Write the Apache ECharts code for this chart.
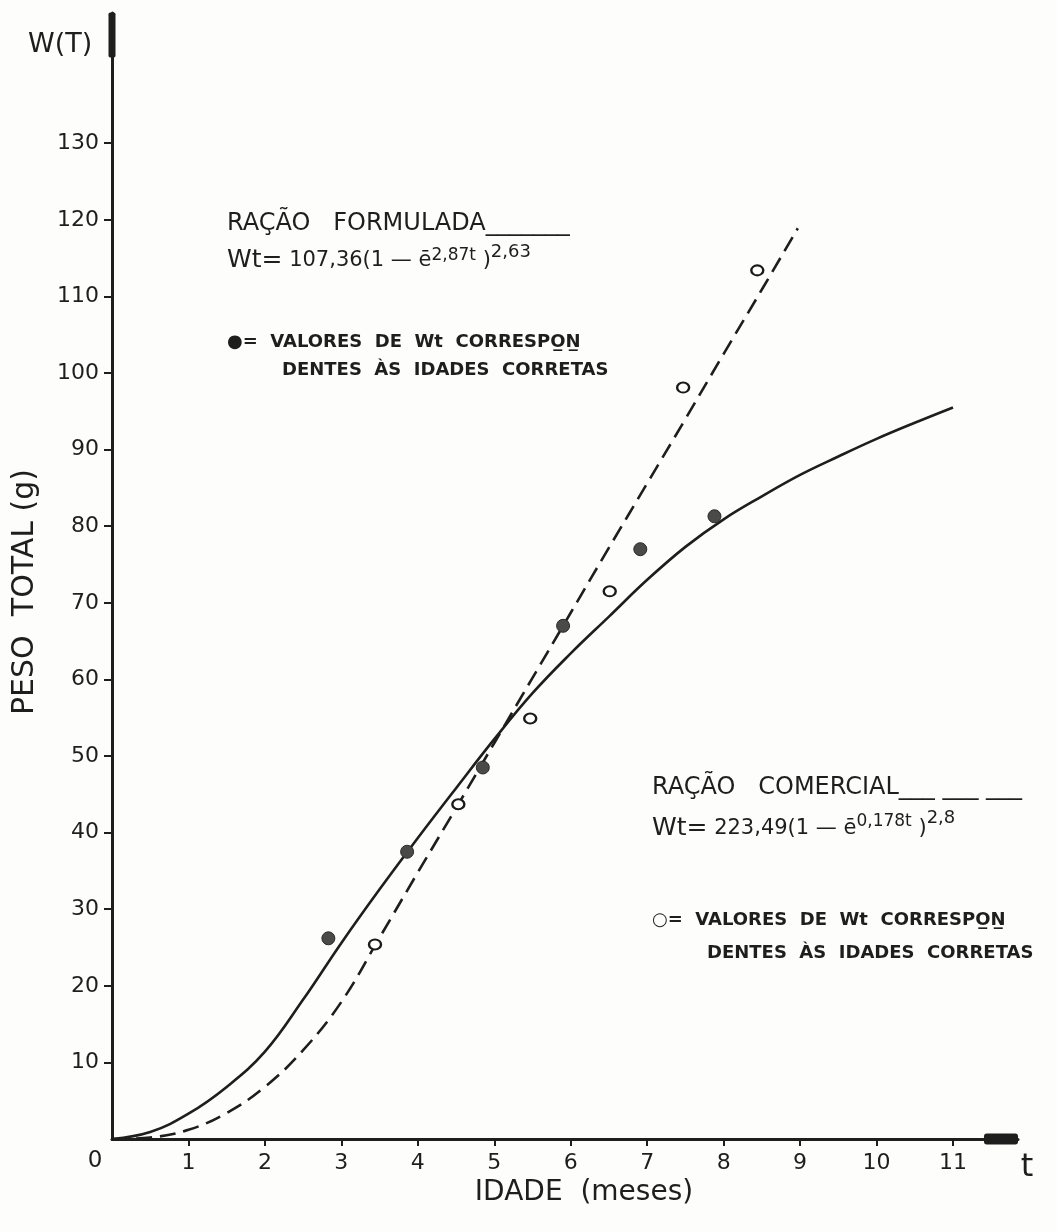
<!DOCTYPE html>
<html>
<head>
<meta charset="utf-8">
<script src="https://cdn.jsdelivr.net/npm/echarts@6/dist/echarts.min.js"></script>
<style>
html,body{margin:0;padding:0;background:#fdfdfb;}
#chart{width:1057px;height:1232px;}
</style>
</head>
<body>
<div id="chart"></div>
<script>
// ---- tick labels ----
const xTicks = [1, 2, 3, 4, 5, 6, 7, 8, 9, 10, 11];
const yTicks = [10, 20, 30, 40, 50, 60, 70, 80, 90, 100, 110, 120, 130];

// ---- Ração formulada: fitted curve (solid) ----
const tFormulada = [0, 0.5, 1, 1.5, 2, 2.5, 3, 3.5, 4, 4.5, 5, 5.5, 6, 6.5, 7, 7.5, 8, 8.5, 9, 9.5, 10, 10.5, 11];
const wFormulada = [0, 0.9, 3.3, 6.8, 11.4, 18.2, 25.6, 32.6, 39.3, 45.8, 52.2, 58.2, 63.4, 68.2, 73.0, 77.3, 80.9, 83.9, 86.7, 89.1, 91.4, 93.5, 95.5];

// ---- Ração comercial: fitted curve (dashed) ----
const tComercial = [0, 0.5, 1, 1.5, 2, 2.5, 3, 3.5, 4, 4.5, 5, 5.5, 6, 6.5, 7, 7.5, 8, 8.5, 8.97];
const wComercial = [0, 0.2, 1.2, 3.4, 6.8, 11.6, 17.9, 26.3, 34.8, 43.2, 51.7, 60.2, 68.7, 77.2, 85.6, 94.0, 102.5, 110.9, 118.9];

// ---- observed values (filled = formulada, open = comercial) ----
const obsFormuladaT = [2.83, 3.86, 4.85, 5.90, 6.91, 7.88];
const obsFormuladaW = [26.2, 37.5, 48.5, 67.0, 77.0, 81.3];
const obsComercialT = [3.44, 4.53, 5.47, 6.51, 7.47, 8.44];
const obsComercialW = [25.4, 43.7, 54.9, 71.5, 98.1, 113.4];

const zip = (a, b) => a.map((v, i) => [v, b[i]]);
const FF = "'DejaVu Sans', sans-serif";
const INK = '#1e1e1e';

const chart = echarts.init(document.getElementById('chart'), null, {renderer: 'canvas'});

function txt(x, y, text, size, styleExtra, elExtra) {
  const el = {
    type: 'text', x: x, y: y, z: 10,
    style: Object.assign({text: text, fontSize: size, fontFamily: FF, fill: INK, align: 'left', verticalAlign: 'middle'}, styleExtra || {})
  };
  return Object.assign(el, elExtra || {});
}

function formula(x, yBottom, coef, expo, power, padExp, padPow) {
  return {
    type: 'text', x: x, y: yBottom, z: 10,
    style: {
      text: '{w|Wt=}{n| ' + coef + '(1 — ē}{s|' + expo + '}{n| )}{p|' + power + '}',
      fontFamily: FF, fill: INK, align: 'left', verticalAlign: 'bottom',
      rich: {
        w: {fontSize: 25, fontFamily: FF, fill: INK},
        n: {fontSize: 21, fontFamily: FF, fill: INK},
        s: {fontSize: 17, fontFamily: FF, fill: INK, padding: [0, 0, padExp, 0]},
        p: {fontSize: 18, fontFamily: FF, fill: INK, padding: [0, 0, padPow, 0]}
      }
    }
  };
}

const BOLD = {fontWeight: 'bold'};

const option = {
  backgroundColor: '#fdfdfb',
  animation: false,
  grid: {left: 112, right: 39, top: 13, bottom: 93, outerBoundsMode: 'none', containLabel: false},
  xAxis: {
    type: 'value', min: 0, max: 11.85,
    axisLine: {show: true, lineStyle: {color: INK, width: 3},
      symbol: ['none', 'roundRect'], symbolSize: [11, 34], symbolOffset: [0, -17]},
    axisTick: {show: true, length: 7, lineStyle: {color: INK, width: 2}, customValues: xTicks},
    axisLabel: {show: true, customValues: xTicks, fontSize: 22, fontFamily: FF, color: INK, margin: 13},
    splitLine: {show: false}
  },
  yAxis: {
    type: 'value', min: 0, max: 147,
    axisLine: {show: true, lineStyle: {color: INK, width: 3},
      symbol: ['none', 'roundRect'], symbolSize: [7, 45], symbolOffset: [0, -22]},
    axisTick: {show: true, length: 8, lineStyle: {color: INK, width: 2}, customValues: yTicks},
    axisLabel: {show: true, customValues: yTicks, fontSize: 22, fontFamily: FF, color: INK, margin: 13},
    splitLine: {show: false}
  },
  series: [
    {
      name: 'Ração formulada', type: 'line', data: zip(tFormulada, wFormulada),
      showSymbol: false, smooth: 0.4, z: 3,
      lineStyle: {color: INK, width: 2.6}
    },
    {
      name: 'Ração comercial', type: 'line', data: zip(tComercial, wComercial),
      showSymbol: false, smooth: 0.4, z: 3,
      lineStyle: {color: INK, width: 2.6, type: [16, 8]}
    },
    {
      name: 'Formulada (observado)', type: 'scatter', data: zip(obsFormuladaT, obsFormuladaW),
      symbol: 'circle', symbolSize: 13, z: 5,
      itemStyle: {color: '#4a4a4a', borderColor: '#2a2a2a', borderWidth: 1, opacity: 1}
    },
    {
      name: 'Comercial (observado)', type: 'scatter', data: zip(obsComercialT, obsComercialW),
      symbol: 'circle', symbolSize: [12, 10], z: 5,
      itemStyle: {color: '#ffffff', borderColor: '#1a1a1a', borderWidth: 2.2, opacity: 1}
    }
  ],
  graphic: [
    txt(28, 45, 'W(T)', 27),
    txt(95, 1161, '0', 23, {align: 'center'}),
    txt(1027, 1168, 't', 32, {align: 'center'}),
    txt(25, 592, 'PESO  TOTAL (g)', 30, {align: 'center'}, {rotation: Math.PI / 2}),
    txt(584, 1193, 'IDADE  (meses)', 28, {align: 'center'}),

    // upper annotation (ração formulada)
    txt(227, 224, 'RAÇÃO   FORMULADA_______', 24),
    formula(227, 278, '107,36', '2,87t', '2,63', 10, 17),
    txt(227, 342, '●=  VALORES  DE  Wt  CORRESPO̲N̲', 18, BOLD),
    txt(282, 370, 'DENTES  ÀS  IDADES  CORRETAS', 18, BOLD),

    // lower annotation (ração comercial)
    txt(652, 788, 'RAÇÃO   COMERCIAL___ ___ ___', 24),
    formula(652, 848, '223,49', '0,178t', '2,8', 14, 21),
    txt(652, 920, '○=  VALORES  DE  Wt  CORRESPO̲N̲', 18, BOLD),
    txt(707, 953, 'DENTES  ÀS  IDADES  CORRETAS', 18, BOLD)
  ]
};

chart.setOption(option);
</script>
</body>
</html>
